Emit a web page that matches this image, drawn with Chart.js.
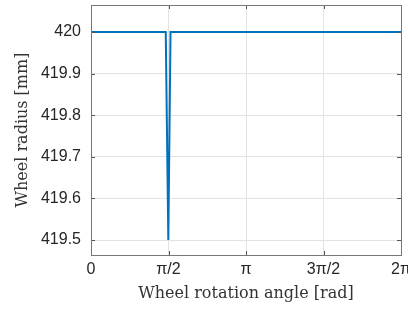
<!DOCTYPE html>
<html lang="en">
<head>
    <meta charset="UTF-8">
    <title>Wheel radius</title>
    <style>
        body {
            margin: 0;
            padding: 0;
            background-color: #ffffff;
        }
        .container {
            width: 408px;
            height: 309px;
            position: relative;
        }
    </style>
</head>
<body>

    <div class="container">
        <canvas id="myChart" width="408" height="309"></canvas>
    </div>

    <script src="https://cdn.jsdelivr.net/npm/chart.js"></script>
    <script>
        const ctx = document.getElementById('myChart').getContext('2d');

        // data: angle [rad] vs radius [mm]
        const angles = [0, 1.515, 1.567, 1.612, 2 * Math.PI];
        const radii = [420, 420, 419.5, 420, 420];

        // tick positions and labels
        const xTicks = [0, Math.PI / 2, Math.PI, 3 * Math.PI / 2, 2 * Math.PI];
        const xTickLabels = ['0', 'π/2', 'π', '3π/2', '2π'];
        const yTicks = [419.5, 419.6, 419.7, 419.8, 419.9, 420];
        const yTickLabels = ['419.5', '419.6', '419.7', '419.8', '419.9', '420'];

        // box around plot + inward tick marks, like matlab
        const boxPlugin = {
            id: 'box',
            afterDraw(chart) {
                const a = chart.chartArea;
                const c = chart.ctx;
                const xs = chart.scales.x;
                const ys = chart.scales.y;
                c.save();
                c.strokeStyle = '#555';
                c.lineWidth = 1;
                c.beginPath();
                xTicks.forEach(v => {
                    const px = Math.round(xs.getPixelForValue(v)) + 0.5;
                    c.moveTo(px, a.bottom); c.lineTo(px, a.bottom - 4);
                    c.moveTo(px, a.top); c.lineTo(px, a.top + 4);
                });
                yTicks.forEach(v => {
                    const py = Math.round(ys.getPixelForValue(v)) + 0.5;
                    c.moveTo(a.left, py); c.lineTo(a.left + 4, py);
                    c.moveTo(a.right, py); c.lineTo(a.right - 4, py);
                });
                c.stroke();
                c.strokeStyle = '#777';
                c.strokeRect(Math.round(a.left) + 0.5, Math.round(a.top) + 0.5,
                    Math.round(a.right - a.left), Math.round(a.bottom - a.top));
                c.restore();
            }
        };

        let myChart = new Chart(ctx, {
            type: 'line',
            data: {
                datasets: [{
                    data: angles.map((a, i) => ({ x: a, y: radii[i] })),
                    borderColor: '#0072BD',
                    borderWidth: 2,
                    pointRadius: 0,
                    tension: 0,
                    fill: false
                }]
            },
            options: {
                responsive: false,
                animation: false,
                layout: {
                    padding: { top: 5, right: 7, left: 0, bottom: 0 }
                },
                plugins: {
                    legend: { display: false },
                    tooltip: { enabled: false }
                },
                scales: {
                    x: {
                        type: 'linear',
                        min: 0,
                        max: 2 * Math.PI,
                        afterBuildTicks: (scale) => {
                            scale.ticks = xTicks.map(v => ({ value: v }));
                        },
                        afterFit: (scale) => {
                            scale.height = 54;
                            scale.paddingLeft = 0;
                            scale.paddingRight = 0;
                        },
                        ticks: {
                            autoSkip: false,
                            maxRotation: 0,
                            padding: 5,
                            color: '#262626',
                            font: { family: 'Liberation Sans', size: 16 },
                            callback: function(value, index) {
                                return xTickLabels[index];
                            }
                        },
                        grid: {
                            color: '#e3e3e3',
                            drawTicks: false
                        },
                        border: { display: false },
                        title: {
                            display: true,
                            text: 'Wheel rotation angle [rad]',
                            color: '#333',
                            font: { family: 'DejaVu Serif', size: 16 },
                            padding: { top: 0, bottom: 6 }
                        }
                    },
                    y: {
                        type: 'linear',
                        min: 419.464,
                        max: 420.065,
                        afterBuildTicks: (scale) => {
                            scale.ticks = yTicks.map(v => ({ value: v }));
                        },
                        afterFit: (scale) => {
                            scale.width = 91;
                            scale.paddingTop = 0;
                            scale.paddingBottom = 0;
                        },
                        ticks: {
                            autoSkip: false,
                            padding: 10,
                            color: '#262626',
                            font: { family: 'Liberation Sans', size: 16 },
                            callback: function(value, index) {
                                return yTickLabels[index];
                            }
                        },
                        grid: {
                            color: '#e3e3e3',
                            drawTicks: false
                        },
                        border: { display: false },
                        title: {
                            display: true,
                            text: 'Wheel radius [mm]',
                            color: '#333',
                            font: { family: 'DejaVu Serif', size: 16 },
                            padding: { top: 13, bottom: 0 }
                        }
                    }
                }
            },
            plugins: [boxPlugin]
        });
    </script>
</body>
</html>
